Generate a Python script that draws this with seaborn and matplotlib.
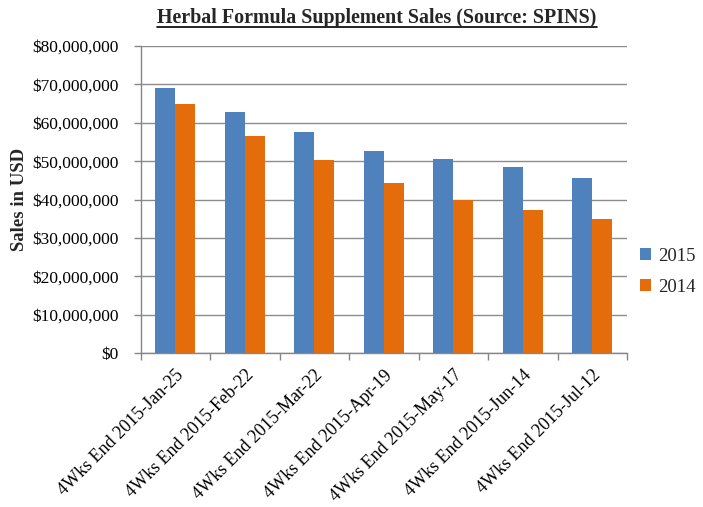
import matplotlib
matplotlib.use("Agg")
import matplotlib.pyplot as plt
import seaborn as sns
import pandas as pd
from matplotlib.lines import Line2D
from matplotlib.ticker import FuncFormatter, MultipleLocator, FixedLocator

categories = ["4Wks End 2015-Jan-25", "4Wks End 2015-Feb-22", "4Wks End 2015-Mar-22",
              "4Wks End 2015-Apr-19", "4Wks End 2015-May-17", "4Wks End 2015-Jun-14",
              "4Wks End 2015-Jul-12"]
sales_2015 = [69.0e6, 62.8e6, 57.6e6, 52.6e6, 50.5e6, 48.5e6, 45.6e6]
sales_2014 = [64.9e6, 56.5e6, 50.3e6, 44.3e6, 39.8e6, 37.3e6, 34.9e6]
series = ["2015", "2014"]
colors = ["#4F81BD", "#E46C0A"]

df = pd.DataFrame({
    "Week": categories * 2,
    "Year": [series[0]] * len(categories) + [series[1]] * len(categories),
    "Sales": sales_2015 + sales_2014,
})

sns.set_theme(style="white")
plt.rcParams["font.family"] = ["Liberation Serif", "DejaVu Serif"]

fig = plt.figure(figsize=(7.03, 5.07), dpi=100)
ax = fig.add_axes([0.2, 0.304, 0.692, 0.605])

sns.barplot(data=df, x="Week", y="Sales", hue="Year", palette=colors,
            width=0.575, gap=0, saturation=1, linewidth=0, edgecolor="none",
            ax=ax, legend=True)

ax.set_ylim(0, 80e6)
ax.set_xlim(-0.5, len(categories) - 0.5)
ax.yaxis.set_major_locator(MultipleLocator(10e6))
ax.yaxis.set_major_formatter(FuncFormatter(lambda v, p: "${:,.0f}".format(v)))
ax.grid(axis="y", color="#8C8C8C", linewidth=1.0)
ax.set_axisbelow(True)

for s in ["top", "right"]:
    ax.spines[s].set_visible(False)
for s in ["left", "bottom"]:
    ax.spines[s].set_color("#868686")
    ax.spines[s].set_linewidth(1.0)

ax.tick_params(axis="y", which="major", direction="out", length=5, width=1,
               color="#868686", labelsize=12.5, labelcolor="black", pad=11, left=True)
ax.xaxis.set_minor_locator(FixedLocator([i - 0.5 for i in range(len(categories) + 1)]))
ax.tick_params(axis="x", which="major", length=0, labelsize=13, labelcolor="black", pad=10)
ax.tick_params(axis="x", which="minor", direction="out", length=5, width=1,
               color="#868686", bottom=True)
for lab in ax.get_xticklabels():
    lab.set_rotation(45)
    lab.set_ha("right")
    lab.set_rotation_mode("anchor")

ax.set_xlabel("")
ax.set_ylabel("Sales in USD", fontsize=13.5, fontweight="bold", labelpad=3)

leg = ax.legend(loc="center left", bbox_to_anchor=(1.0, 0.265), frameon=False,
                fontsize=13.5, handlelength=0.6, handleheight=0.6, handletextpad=0.35,
                labelspacing=0.75, borderaxespad=0.3)

title = fig.text(377 / 703, 1 - 18 / 507, "Herbal Formula Supplement Sales (Source: SPINS)",
                 ha="center", va="center", fontsize=14.4, fontweight="bold")
fig.canvas.draw()
bb = title.get_window_extent().transformed(fig.transFigure.inverted())
fig.add_artist(Line2D([bb.x0, bb.x1], [bb.y0 + 0.002, bb.y0 + 0.002],
                      transform=fig.transFigure, color="black", linewidth=1.2))

fig.savefig("out.png", dpi=100)
